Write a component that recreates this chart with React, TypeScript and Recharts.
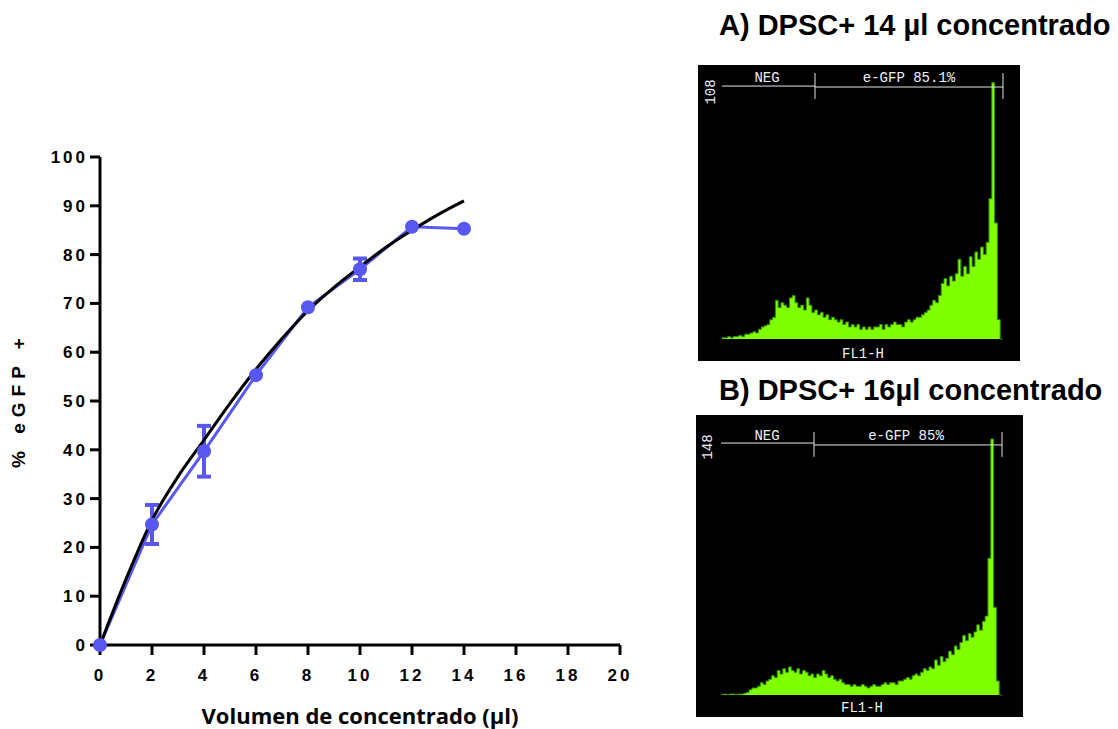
import {
  ComposedChart,
  Line,
  ErrorBar,
  XAxis,
  YAxis,
  AreaChart,
  Area,
  ReferenceLine,
} from "recharts";

// transduction efficiency vs. volume of concentrate
const volumes = [0, 2, 4, 6, 8, 10, 12, 14];
const egfpMean = [0, 24.7, 39.7, 55.3, 69.2, 77.0, 85.7, 85.3];
const egfpErr = [null, 4.0, 5.2, null, null, 2.2, null, null];

// fitted saturation curve
const fitVolumes = [0, 1, 2, 3, 4, 5, 6, 7, 8, 9, 10, 11, 12, 13, 14];
const fitValues = [0, 13.5, 25.6, 34.5, 42, 49.5, 56.5, 62.8, 68.5, 73.3, 77.5, 81.5, 85, 88.2, 91];

const xTicks = [0, 2, 4, 6, 8, 10, 12, 14, 16, 18, 20];
const yTicks = [0, 10, 20, 30, 40, 50, 60, 70, 80, 90, 100];

// FL1-H histograms, 100 channels over 4 log decades
const histA = [
  0.5, 0.5, 1, 0.5, 1, 1, 1.5, 1, 2, 2,
  2.5, 3, 2.5, 4, 5, 5.5, 6, 8, 9, 16,
  13, 15, 14, 13, 17, 18, 15, 13, 14, 12,
  17, 14, 11, 12, 10, 11, 9, 10, 8, 9,
  8, 7, 8, 6, 7, 5, 6, 5, 6, 4,
  5, 4, 5, 4, 5, 5, 6, 4, 6, 5,
  6, 7, 6, 6, 5, 7, 8, 7, 8, 9,
  9, 10, 11, 12, 14, 16, 15, 18, 23, 25,
  22, 26, 24, 27, 33, 26, 30, 27, 34, 30,
  36, 33, 38, 35, 40, 58, 106, 48, 8, 0,
];
const histB = [
  0.3, 0.5, 0.3, 0.5, 0.5, 0.3, 0.5, 0.5, 1, 1.5,
  3, 4, 4, 5, 7, 6, 8, 9, 11, 10,
  14, 12, 15, 13, 16, 14, 13, 15, 12, 14,
  13, 11, 12, 10, 12, 11, 14, 12, 10, 11,
  9, 8, 9, 7, 6, 6, 5, 6, 5, 5,
  6, 5, 4, 5, 6, 5, 5, 6, 7, 6,
  7, 7, 6, 8, 8, 9, 10, 9, 11, 12,
  11, 13, 15, 14, 16, 15, 20, 17, 22, 19,
  21, 25, 23, 28, 26, 30, 34, 31, 35, 33,
  36, 40, 37, 42, 45, 78, 146, 50, 8, 0,
];

const decadeMultipliers = [1, 2, 3, 4, 5, 6, 7, 8, 9];
const logTicks = [0, 1, 2, 3].flatMap((d) =>
  decadeMultipliers.map((m) => 25 * (d + Math.log10(m)))
).concat([100]);

const BLUE = "#5858F0";
const GATE = "#e4e4e4";
const SANS = "'Liberation Sans', Arial, sans-serif";
const MONO = "'Liberation Mono', 'Courier New', monospace";

const meanData = volumes.map((x, i) => ({ x, y: egfpMean[i], err: egfpErr[i] }));
const fitData = fitVolumes.map((x, i) => ({ x, y: fitValues[i] }));

function toChannels(counts: number[]) {
  return counts
    .map((count, i) => ({ ch: i, count }))
    .concat([{ ch: 100, count: 0 }]);
}

function LogTick(props: any) {
  const { x, y, payload } = props;
  const v = payload.value / 25;
  const major = Math.abs(v - Math.round(v)) < 1e-6;
  return <line x1={x} x2={x} y1={y} y2={y + (major ? 6 : 4)} stroke={GATE} strokeWidth={1} />;
}

type HistProps = {
  counts: number[];
  width: number;
  height: number;
  margin: { top: number; right: number; bottom: number; left: number };
  yMax: number;
  negY: number;
  posY: number;
  tickLow: number;
};

function Histogram({ counts, width, height, margin, yMax, negY, posY, tickLow }: HistProps) {
  return (
    <AreaChart width={width} height={height} data={toChannels(counts)} margin={margin}>
      <XAxis
        type="number"
        dataKey="ch"
        domain={[0, 100]}
        ticks={logTicks}
        interval={0}
        height={0}
        axisLine={{ stroke: GATE }}
        tickLine={false}
        tickSize={0}
        tickMargin={0}
        tick={<LogTick />}
      />
      <YAxis
        type="number"
        domain={[0, yMax]}
        width={0}
        tick={false}
        tickLine={false}
        axisLine={{ stroke: GATE }}
      />
      <Area
        type="stepAfter"
        dataKey="count"
        fill="#80FF00"
        fillOpacity={1}
        stroke="#2f8a00"
        strokeWidth={1}
        isAnimationActive={false}
      />
      <ReferenceLine segment={[{ x: 0, y: negY }, { x: 33.1, y: negY }]} stroke={GATE} ifOverflow="visible" />
      <ReferenceLine segment={[{ x: 33.1, y: posY }, { x: 100, y: posY }]} stroke={GATE} ifOverflow="visible" />
      <ReferenceLine segment={[{ x: 33.1, y: tickLow }, { x: 33.1, y: yMax }]} stroke={GATE} ifOverflow="visible" />
      <ReferenceLine segment={[{ x: 100, y: tickLow }, { x: 100, y: yMax }]} stroke={GATE} ifOverflow="visible" />
    </AreaChart>
  );
}

export default function App() {
  const tickFont = { fill: "#000", fontSize: 17, fontWeight: 700, fontFamily: SANS, letterSpacing: 3 };
  return (
    <div style={{ position: "absolute", left: 0, top: 0, width: 1118, height: 729, background: "#fff", fontFamily: SANS }}>
      <div style={{ position: "absolute", left: 0, top: 0 }}>
        <ComposedChart width={660} height={729} margin={{ top: 157, right: 40, bottom: 54, left: 0 }}>
          <XAxis
            type="number"
            dataKey="x"
            domain={[0, 20]}
            ticks={xTicks}
            interval={0}
            height={30}
            stroke="#000"
            strokeWidth={3}
            axisLine={{ stroke: "#000", strokeWidth: 3 }}
            tickLine={{ stroke: "#000", strokeWidth: 3 }}
            tickSize={10}
            tickMargin={14}
            tick={tickFont}
          />
          <YAxis
            type="number"
            domain={[0, 100]}
            ticks={yTicks}
            interval={0}
            width={100}
            stroke="#000"
            strokeWidth={3}
            axisLine={{ stroke: "#000", strokeWidth: 3 }}
            tickLine={{ stroke: "#000", strokeWidth: 3 }}
            tickSize={10}
            tickMargin={2}
            tick={tickFont}
          />
          <Line
            data={meanData}
            dataKey="y"
            type="linear"
            stroke={BLUE}
            strokeWidth={3}
            dot={{ r: 7, fill: BLUE, stroke: BLUE, strokeWidth: 0 }}
            isAnimationActive={false}
          >
            <ErrorBar dataKey="err" direction="y" width={7} stroke={BLUE} strokeWidth={4} />
          </Line>
          <Line
            data={fitData}
            dataKey="y"
            type="monotone"
            stroke="#000"
            strokeWidth={3}
            dot={false}
            isAnimationActive={false}
          />
        </ComposedChart>
      </div>

      <div style={{ position: "absolute", left: 698, top: 65, background: "#000" }}>
        <Histogram
          counts={histA}
          width={322}
          height={296}
          margin={{ top: 8, right: 17, bottom: 22, left: 24 }}
          yMax={110}
          negY={104.6}
          posY={104.2}
          tickLow={99.3}
        />
      </div>
      <div style={{ position: "absolute", left: 696, top: 415, background: "#000" }}>
        <Histogram
          counts={histB}
          width={327}
          height={302}
          margin={{ top: 17, right: 21, bottom: 22, left: 25 }}
          yMax={150}
          negY={143.7}
          posY={142.6}
          tickLow={135.8}
        />
      </div>

      <svg width={1118} height={729} style={{ position: "absolute", left: 0, top: 0, pointerEvents: "none" }}>
        <text x={18} y={400} transform="rotate(-90 18 400)" textAnchor="middle" dominantBaseline="central"
          fontFamily={SANS} fontWeight={700} fontSize={19} letterSpacing={6}>% eGFP +</text>
        <text x={360} y={715} textAnchor="middle" dominantBaseline="central"
          fontFamily="'Open Sans', sans-serif" fontWeight={700} fontSize={22}>Volumen de concentrado (µl)</text>

        <text x={719} y={25} dominantBaseline="central" fontFamily={SANS} fontWeight={700} fontSize={29}>A) DPSC+ 14 µl concentrado</text>
        <text x={719} y={390} dominantBaseline="central" fontFamily={SANS} fontWeight={700} fontSize={29}>B) DPSC+ 16µl concentrado</text>

        <g fontFamily={MONO} fontSize={14} fill="#eef2f8">
          <text x={767} y={78} textAnchor="middle" dominantBaseline="central">NEG</text>
          <text x={909} y={78} textAnchor="middle" dominantBaseline="central">e-GFP 85.1%</text>
          <text x={711} y={92} transform="rotate(-90 711 92)" textAnchor="middle" dominantBaseline="central">108</text>
          <text x={863} y={354} textAnchor="middle" dominantBaseline="central">FL1-H</text>

          <text x={767} y={436} textAnchor="middle" dominantBaseline="central">NEG</text>
          <text x={906} y={436} textAnchor="middle" dominantBaseline="central">e-GFP 85%</text>
          <text x={708} y={447} transform="rotate(-90 708 447)" textAnchor="middle" dominantBaseline="central">148</text>
          <text x={862} y={708} textAnchor="middle" dominantBaseline="central">FL1-H</text>
        </g>
      </svg>
    </div>
  );
}
